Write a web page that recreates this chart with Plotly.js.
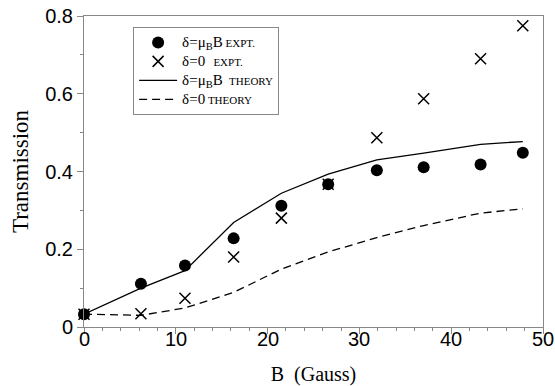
<!DOCTYPE html>
<html><head><meta charset="utf-8">
<script src="https://cdn.plot.ly/plotly-3.0.1.min.js"></script>
<style>html,body{margin:0;padding:0;background:#fff}#chart{width:555px;height:386px}</style>
</head><body><div id="chart"></div>
<script>
// Measured field values (Gauss)
const bField = [0, 6.2, 11.0, 16.3, 21.5, 26.6, 31.9, 37.0, 43.2, 47.8];
// Experiment, delta = mu_B B
const exptMuB = [0.033, 0.111, 0.158, 0.228, 0.312, 0.367, 0.403, 0.411, 0.418, 0.448];
// Experiment, delta = 0
const exptZero = [0.033, 0.034, 0.074, 0.180, 0.280, 0.367, 0.487, 0.587, 0.690, 0.775];
// Theory, delta = mu_B B
const theoryMuB = [0.033, 0.100, 0.145, 0.269, 0.344, 0.393, 0.430, 0.447, 0.470, 0.477];
// Theory, delta = 0
const theoryZero = [0.033, 0.030, 0.049, 0.089, 0.149, 0.193, 0.230, 0.261, 0.293, 0.304];

const xTickVals = [0, 10, 20, 30, 40, 50];
const xTickText = ['0', '10', '20', '30', '40', '50'];
const yTickVals = [0, 0.2, 0.4, 0.6, 0.8];
const yTickText = ['0', '0.2', '0.4', '0.6', '0.8'];

const serif = 'Liberation Serif, Times New Roman, serif';
const sans = 'Liberation Sans, Arial, sans-serif';
const lg = (main, tail) => "<span style='font-size:15px'>" + main + "</span>" +
  "<span style='font-size:11px'>" + tail + "</span>";

const data = [
  {x: bField, y: theoryMuB, mode: 'lines', name: lg('δ=μ<sub>B</sub>B ', ' THEORY'),
   line: {color: '#000', width: 1.3}, legendrank: 3, cliponaxis: false},
  {x: bField, y: theoryZero, mode: 'lines', name: lg('δ=0', ' THEORY'),
   line: {color: '#000', width: 1.3, dash: '8px,5px'}, legendrank: 4, cliponaxis: false},
  {x: bField, y: exptZero, mode: 'markers', name: lg('δ=0', '   EXPT.'),
   marker: {symbol: 'x-thin', size: 11, line: {color: '#000', width: 1.5}, color: '#000'},
   legendrank: 2, cliponaxis: false},
  {x: bField, y: exptMuB, mode: 'markers', name: lg('δ=μ<sub>B</sub>B', ' EXPT.'),
   marker: {symbol: 'circle', size: 12, color: '#000'}, legendrank: 1, cliponaxis: false}
];

const tickFont = {family: sans, size: 20, color: '#000'};

// x tick labels as annotations so they can sit close to the axis like the reference
const xLabelAnnotations = xTickVals.map((v, i) => ({
  x: v, xref: 'x', y: 0, yref: 'paper', yanchor: 'top', xanchor: 'center',
  text: xTickText[i], showarrow: false, font: tickFont, yshift: 0, borderpad: 0
}));

const layout = {
  width: 555, height: 386,
  margin: {l: 84, r: 12, t: 16, b: 59},
  paper_bgcolor: '#fff', plot_bgcolor: '#fff',
  showlegend: true,
  legend: {x: 0.107, y: 0.965, xanchor: 'left', yanchor: 'top',
    bgcolor: '#fff', bordercolor: '#888', borderwidth: 1, itemwidth: 38,
    font: {family: serif, size: 11, color: '#000'}},
  annotations: xLabelAnnotations,
  xaxis: {
    range: [0, 50], tickvals: xTickVals, showticklabels: false,
    showline: true, linecolor: '#888', linewidth: 1, mirror: true,
    ticks: 'outside', ticklen: 6, tickcolor: '#888', tickwidth: 1,
    showgrid: false, zeroline: false, tickfont: tickFont, automargin: false,
    minor: {dtick: 2, ticks: 'outside', ticklen: 3, tickcolor: '#888'},
    title: {text: 'B  (Gauss)', font: {family: serif, size: 20, color: '#000'}, standoff: 33}
  },
  yaxis: {
    range: [0, 0.8], tickvals: yTickVals, ticktext: yTickText,
    showline: true, linecolor: '#888', linewidth: 1, mirror: true,
    ticks: 'outside', ticklen: 6, tickcolor: '#888', tickwidth: 1,
    showgrid: false, zeroline: false, tickfont: tickFont,
    minor: {dtick: 0.1, ticks: 'outside', ticklen: 3, tickcolor: '#888'},
    title: {text: 'Transmission', font: {family: serif, size: 23, color: '#000'}, standoff: 10}
  }
};

Plotly.newPlot('chart', data, layout, {displayModeBar: false, staticPlot: true});
</script></body></html>
